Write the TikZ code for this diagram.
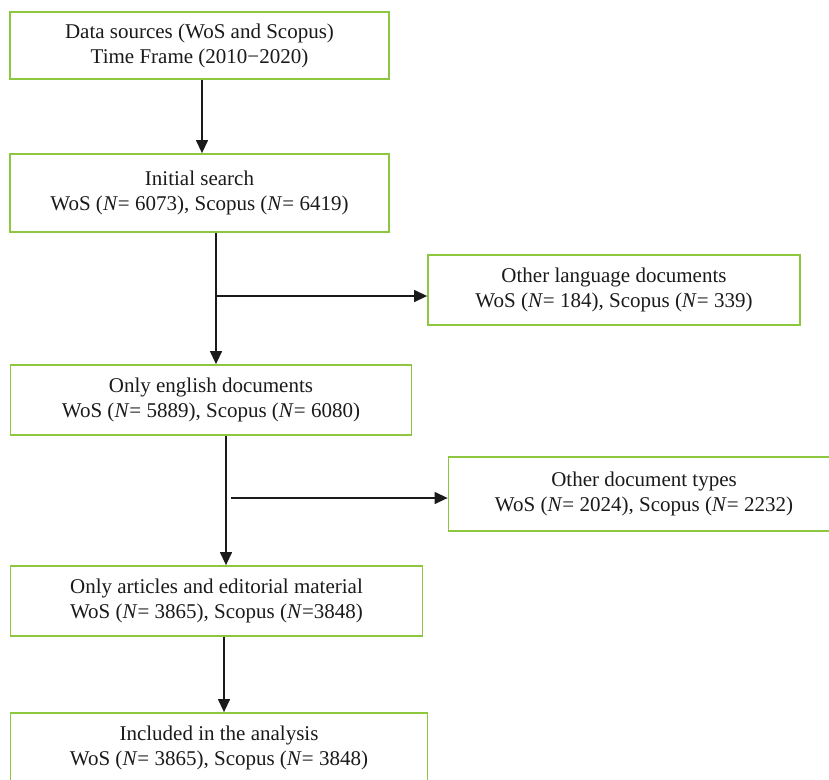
\documentclass[tikz,border=0pt]{standalone}
\usepackage{fontspec}
\setmainfont{Liberation Serif}
\usepackage{xcolor}
\usepackage{tikz}
\definecolor{flowGreen}{HTML}{8DC63F}
\definecolor{flowInk}{HTML}{1A1A1A}
\usetikzlibrary{arrows.meta,positioning,calc}

\begin{document}
\begin{tikzpicture}[
  x=1pt, y=-1pt,
  font=\fontsize{21}{25}\selectfont,
  stagebox/.style={
    draw=flowGreen,
    line width=1.8pt,
    align=center,
    inner sep=0pt,
    minimum height=70pt,
    text=flowInk
  },
  flow/.style={-{Triangle[length=13pt,width=12pt]}, line width=1.3pt, flowInk}
]
\useasboundingbox (0,0) rectangle (829,779);

\node[stagebox, minimum width=379pt, minimum height=67pt] (sources) at (199.5,45.5)
{Data sources (WoS and Scopus)\\Time Frame (2010−2020)};

\node[stagebox, minimum width=379pt, minimum height=78pt] (initial) at (199.5,193)
{Initial search\\WoS (\textit{N}= 6073), Scopus (\textit{N}= 6419)};

\node[stagebox, minimum width=372pt] (otherlang) at (614,290)
{Other language documents\\WoS (\textit{N}= 184), Scopus (\textit{N}= 339)};

\node[stagebox, minimum width=401pt] (english) at (211,400)
{Only english documents\\WoS (\textit{N}= 5889), Scopus (\textit{N}= 6080)};

\node[stagebox, minimum width=391pt, minimum height=74pt] (othertypes) at (644,494)
{Other document types\\WoS (\textit{N}= 2024), Scopus (\textit{N}= 2232)};

\node[stagebox, minimum width=412pt] (articles) at (216.5,601)
{Only articles and editorial material\\WoS (\textit{N}= 3865), Scopus (\textit{N}=3848)};

\node[stagebox, minimum width=417pt] (included) at (219,748)
{Included in the analysis\\WoS (\textit{N}= 3865), Scopus (\textit{N}= 3848)};

% Branch points
\coordinate (spineA) at (216,296);
\coordinate (spineB) at (226,498);

% Flow
\draw[flow] ([xshift=2.5pt]sources.south) -- ([xshift=2.5pt]sources.south |- initial.north);
\draw[flow] (initial.south -| spineA) -- (english.north -| spineA);
\draw[flow] (spineA) -- (spineA -| otherlang.west);
\draw[flow] (english.south -| spineB) -- (articles.north -| spineB);
\draw[flow] ([xshift=5pt]spineB) -- (spineB -| othertypes.west);
\draw[flow] ([xshift=7.5pt]articles.south) -- ([xshift=7.5pt]articles.south |- included.north);

\end{tikzpicture}
\end{document}
